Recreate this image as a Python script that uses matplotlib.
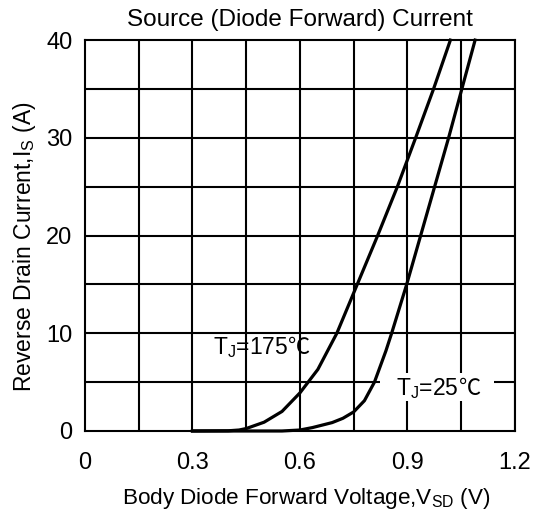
import matplotlib
matplotlib.use('Agg')
import matplotlib.pyplot as plt
import numpy as np
from matplotlib.patches import Rectangle

plt.rcParams['font.family'] = ['Liberation Sans', 'DejaVu Sans']
plt.rcParams['mathtext.fontset'] = 'custom'
plt.rcParams['mathtext.rm'] = 'Liberation Sans'
plt.rcParams['mathtext.default'] = 'regular'

# curve data
v_175 = [0.30, 0.40, 0.43, 0.45, 0.50, 0.55, 0.60, 0.65, 0.703,
         0.760, 0.817, 0.872, 0.923, 0.973, 1.020]
i_175 = [0.0, 0.02, 0.1, 0.25, 0.9, 2.0, 3.9, 6.3, 10.0,
         15, 20, 25, 30, 35, 40]
v_25 = [0.30, 0.55, 0.60, 0.635, 0.69, 0.72, 0.75, 0.78, 0.808, 0.84, 0.856,
        0.898, 0.937, 0.976, 1.015, 1.052, 1.089]
i_25 = [0.0, 0.0, 0.1, 0.35, 0.86, 1.3, 1.95, 3.1, 5.0, 8.2, 10.0,
        15, 20, 25, 30, 35, 40]

xticks = [0, 0.3, 0.6, 0.9, 1.2]
xticklabels = ['0', '0.3', '0.6', '0.9', '1.2']
yticks = [0, 10, 20, 30, 40]

fig = plt.figure(figsize=(5.38, 5.14), dpi=100)
ax = fig.add_axes([0.158, 0.1615, 0.799, 0.7605])

# grid
for gx in np.arange(0.15, 1.2, 0.15):
    ax.axvline(gx, color='black', lw=1.5, zorder=1)
for gy in np.arange(5, 40, 5):
    ax.axhline(gy, color='black', lw=1.5, zorder=1)

ax.plot(v_175, i_175, color='black', lw=2.3, zorder=3, clip_on=False,
        solid_joinstyle='round')
ax.plot(v_25, i_25, color='black', lw=2.3, zorder=3, clip_on=False,
        solid_joinstyle='round')

ax.set_xlim(0, 1.2)
ax.set_ylim(0, 40)
ax.set_xticks(xticks)
ax.set_xticklabels(xticklabels)
ax.set_yticks(yticks)
ax.tick_params(length=0, labelsize=17)
ax.tick_params(axis='x', pad=15)
ax.tick_params(axis='y', pad=9)
for s in ax.spines.values():
    s.set_linewidth(1.5)

# white patch behind the 25C label
ax.add_patch(Rectangle((0.823, 3.05), 0.32, 2.85, facecolor='white',
                       edgecolor='none', zorder=2))


def temp_label(x, y, txt):
    t = ax.text(x, y, txt, fontsize=16.5, ha='left', va='baseline', zorder=4)
    fig.canvas.draw()
    bb = t.get_window_extent(fig.canvas.get_renderer())
    xe = ax.transData.inverted().transform((bb.x1, bb.y0))[0]
    ax.text(xe, y, '℃', fontsize=16, ha='left', va='baseline', zorder=4,
            family=['Noto Sans CJK SC', 'DejaVu Sans'])


temp_label(0.357, 7.84, 'T$_J$=175')
temp_label(0.868, 3.65, 'T$_J$=25')

ax.set_title('Source (Diode Forward) Current', fontsize=17.5, pad=10)
ax.set_xlabel('Body Diode Forward Voltage,V$_{SD}$ (V)', fontsize=16.2)
ax.set_ylabel('Reverse Drain Current,I$_S$ (A)', fontsize=16.5)
ax.xaxis.set_label_coords(0.514, -0.14)
ax.yaxis.set_label_coords(-0.109, 0.472)

fig.savefig('out.png', dpi=100)
